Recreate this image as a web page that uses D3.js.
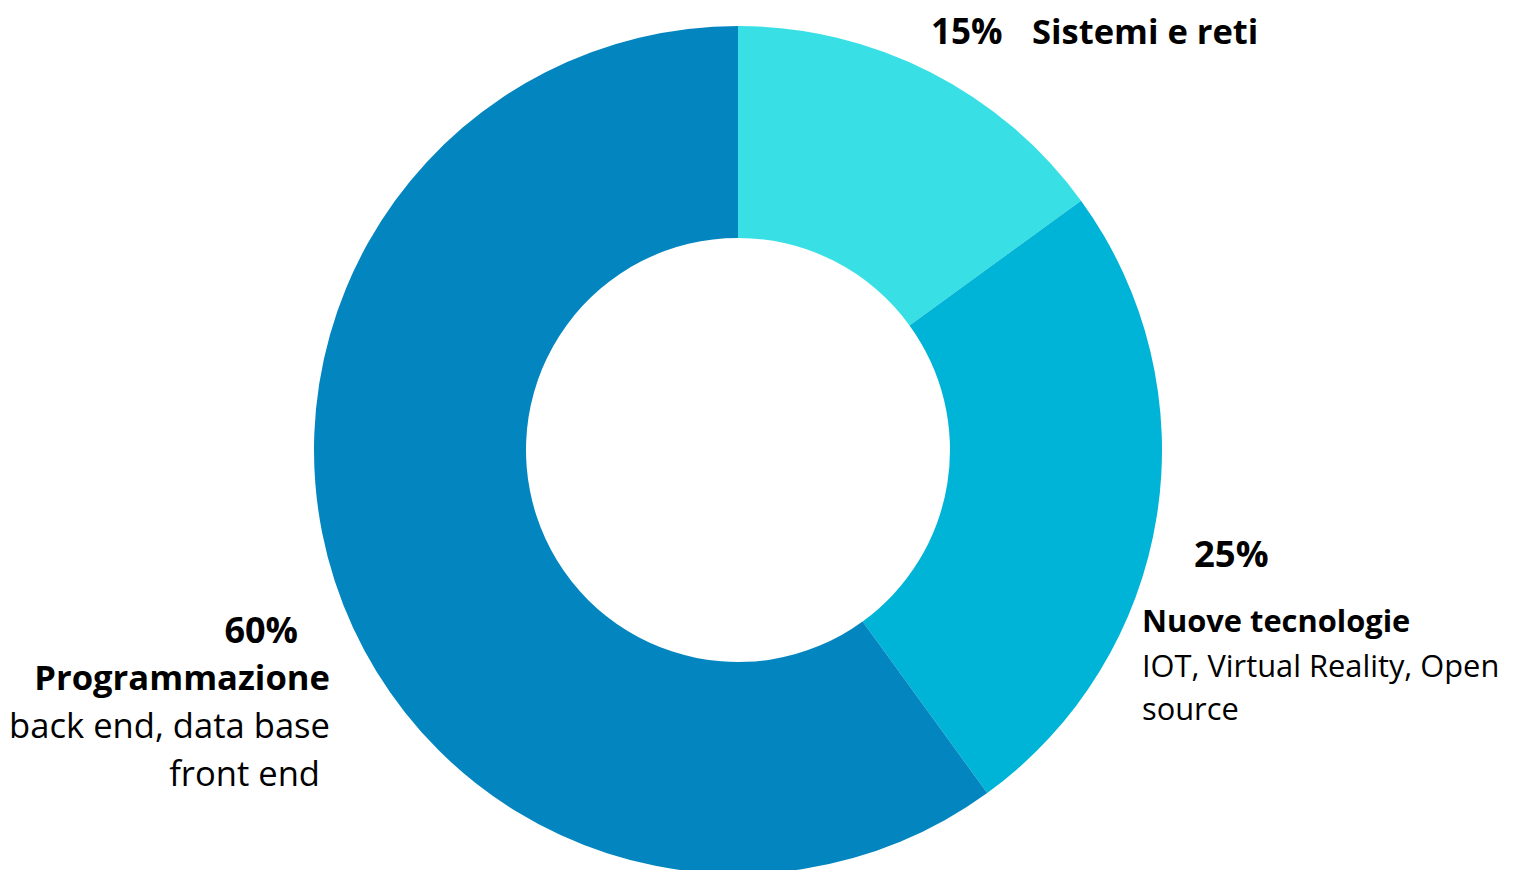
<!DOCTYPE html>
<html>
  <head>
    <meta charset="utf-8">
    <title>Aree di studio</title>
    <script src="https://cdn.jsdelivr.net/npm/d3@7"></script>
    <style>
      body { margin: 0; background: #fff; }
      svg text { font-family: "Open Sans", sans-serif; fill: #000; }
    </style>
  </head>
  <body>
    <svg id="chart" width="1514" height="870"></svg>
    <script>
      // data
      var categories = ["Sistemi e reti", "Nuove tecnologie", "Programmazione"];
      var shares = [15, 25, 60];
      var details = [
        [],
        ["IOT, Virtual Reality, Open", "source"],
        ["back end, data base", "front end"]
      ];
      var colors = ["#38e0e5", "#00b4d7", "#0386c0"];

      var cx = 738, cy = 450, outerR = 424, innerR = 212;

      var svg = d3.select("#chart");
      var g = svg.append("g").attr("transform", "translate(" + cx + "," + cy + ")");

      var pie = d3.pie().sort(null).value(function (d) { return d; });
      var arc = d3.arc().innerRadius(innerR).outerRadius(outerR);

      g.selectAll("path")
        .data(pie(shares))
        .enter()
        .append("path")
          .attr("d", arc)
          .attr("fill", function (d, i) { return colors[i]; });

      // label placement (relative to chart centre)
      var labels = svg.append("g").attr("transform", "translate(" + cx + "," + cy + ")");

      // Sistemi e reti: percent and name on one line, top right
      labels.append("text")
        .attr("x", 193).attr("y", -406)
        .attr("font-weight", 700).attr("font-size", 35)
        .text(shares[0] + "%");
      labels.append("text")
        .attr("x", 294).attr("y", -406)
        .attr("font-weight", 700).attr("font-size", 34.5)
        .text(categories[0]);

      // Nuove tecnologie: right side, left aligned
      labels.append("text")
        .attr("x", 456).attr("y", 117)
        .attr("font-weight", 700).attr("font-size", 36.5)
        .text(shares[1] + "%");
      var t1 = labels.append("text")
        .attr("x", 404).attr("y", 182)
        .attr("font-size", 30.8);
      t1.append("tspan").attr("font-weight", 700).text(categories[1]);
      details[1].forEach(function (line, i) {
        t1.append("tspan").attr("x", 404).attr("dy", i === 0 ? 45 : 43).text(line);
      });

      // Programmazione: left side, right aligned
      labels.append("text")
        .attr("x", -440).attr("y", 193)
        .attr("text-anchor", "end")
        .attr("font-weight", 700).attr("font-size", 36)
        .text(shares[2] + "%");
      var t2 = labels.append("text")
        .attr("x", -408).attr("y", 240)
        .attr("text-anchor", "end")
        .attr("font-size", 34.6);
      t2.append("tspan").attr("font-weight", 700).text(categories[2]);
      t2.append("tspan").attr("x", -408).attr("dy", 48).text(details[2][0]);
      t2.append("tspan").attr("x", -418).attr("dy", 48).text(details[2][1]);
    </script>
  </body>
</html>
